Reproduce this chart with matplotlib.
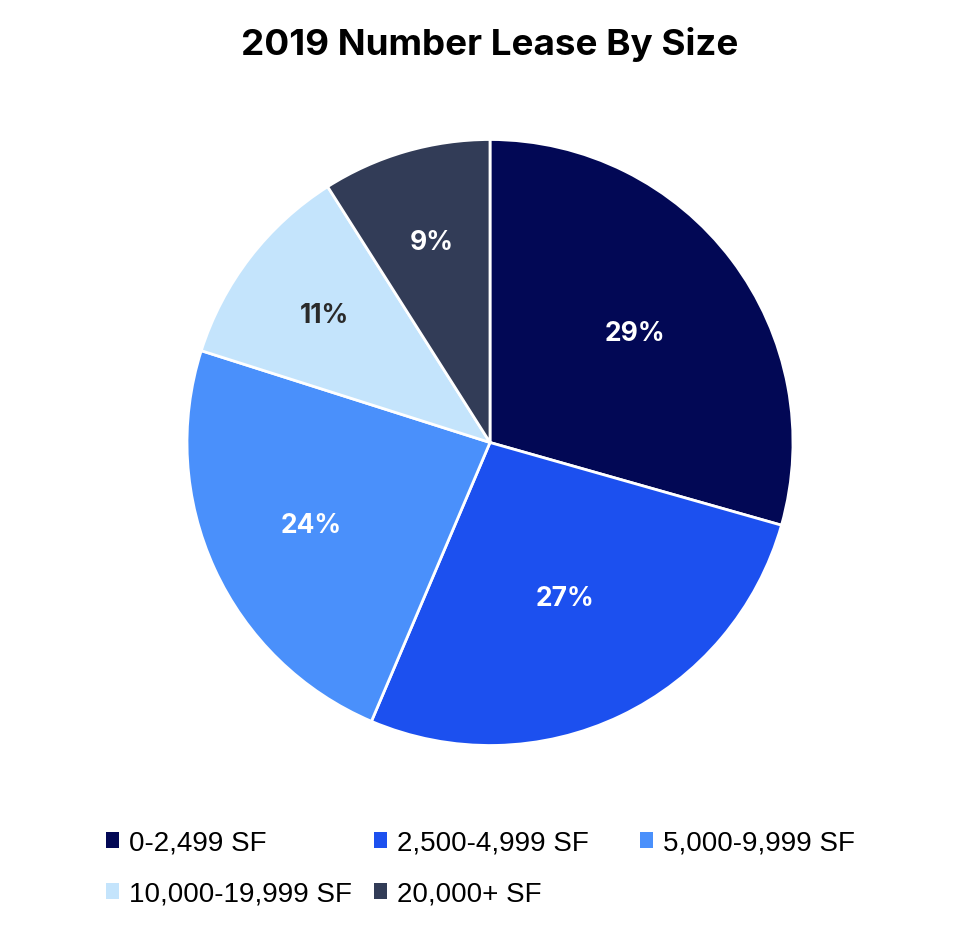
import numpy as np
import matplotlib
matplotlib.use("Agg")
import matplotlib.pyplot as plt
from matplotlib.patches import Patch

# Lease share by size bracket (2019)
categories = ["0-2,499 SF", "2,500-4,999 SF", "5,000-9,999 SF",
              "10,000-19,999 SF", "20,000+ SF"]
shares = [29.4, 27.0, 23.5, 11.1, 9.0]
pct_labels = ["29%", "27%", "24%", "11%", "9%"]
colors = ["#020855", "#1c50ef", "#4a90fb", "#c4e4fc", "#323c57"]
label_colors = ["white", "white", "white", "#2a2a2a", "white"]
label_dist = [0.6, 0.57, 0.65, 0.69, 0.69]

W, H = 980, 928
fig = plt.figure(figsize=(W / 100, H / 100), dpi=100)
cx, cy, r = 490, 443.5, 303
ax = fig.add_axes([(cx - r) / W, 1 - (cy + r) / H, 2 * r / W, 2 * r / H])

wedges, _ = ax.pie(shares, colors=colors, startangle=90, counterclock=False,
                   wedgeprops=dict(edgecolor="white", linewidth=2))
for w, lab, c, d in zip(wedges, pct_labels, label_colors, label_dist):
    ang = np.deg2rad((w.theta1 + w.theta2) / 2)
    ax.text(d * np.cos(ang), d * np.sin(ang), lab, ha="center", va="center",
            family="Inter", fontsize=19, fontweight="bold", color=c)
ax.set_xlim(-1, 1)
ax.set_ylim(-1, 1)
ax.set_aspect("equal")

fig.text(0.5, 1 - 45 / H, "2019 Number Lease By Size", ha="center", va="center",
         family="Inter", fontsize=26.5, fontweight="bold", color="black")

# legend laid out row by row in three fixed-width slots
handles = [Patch(facecolor=c, edgecolor="none") for c in colors]
slot_x = [106, 374, 640]
for col in range(3):
    idx = [i for i in range(len(categories)) if i % 3 == col]
    fig.legend([handles[i] for i in idx], [categories[i] for i in idx],
               loc="upper left", bbox_to_anchor=(slot_x[col] / W, 1 - 831 / H),
               frameon=False, prop=dict(family="Liberation Sans", size=20),
               handlelength=0.47, handleheight=0.47, handletextpad=0.36,
               labelspacing=0.9, borderpad=0, borderaxespad=0)

fig.savefig("out.png", dpi=100, facecolor="white")
